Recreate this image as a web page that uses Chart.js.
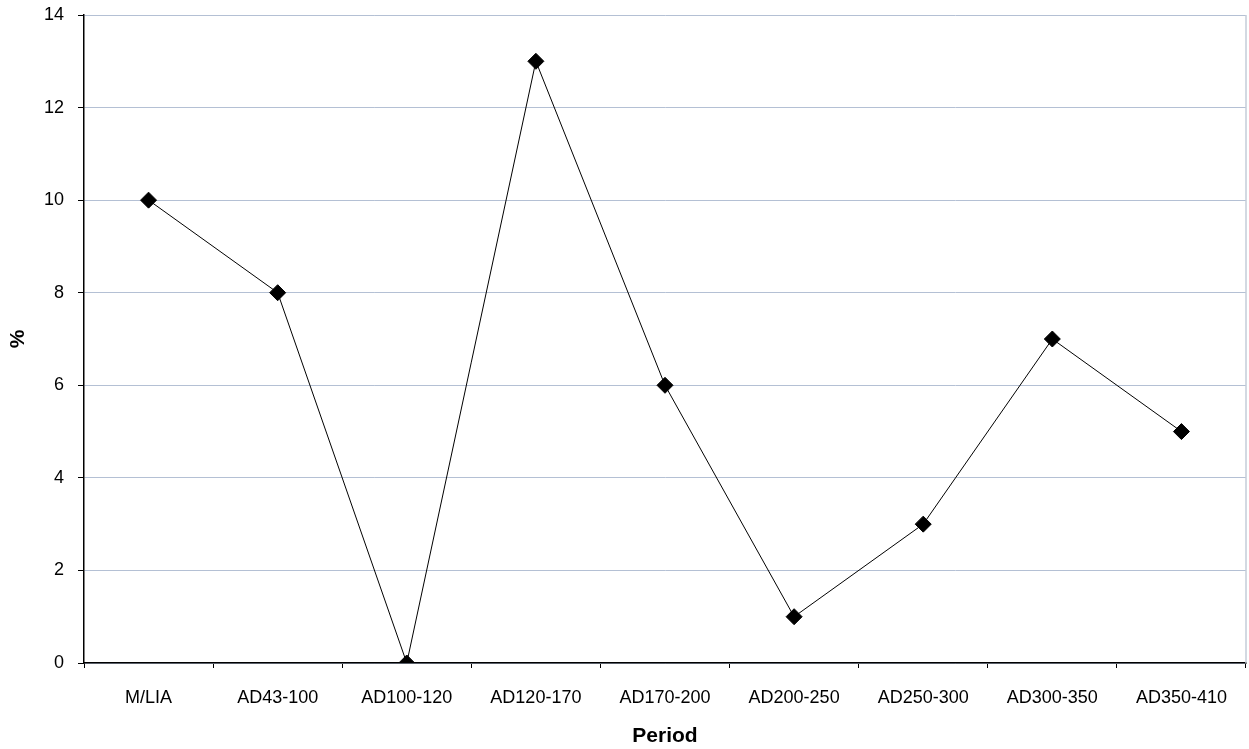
<!DOCTYPE html>
<html>
<head>
<meta charset="utf-8">
<script src="https://cdn.jsdelivr.net/npm/chart.js@4/dist/chart.umd.min.js"></script>
<style>
  html,body{margin:0;padding:0;background:#fff;overflow:hidden;}
  #wrap{width:1249px;height:749px;}
  canvas{display:block;}
</style>
</head>
<body>
<div id="wrap"><canvas id="c" width="1249" height="749"></canvas></div>
<script>
// periods on the x axis
const periods=['M/LIA','AD43-100','AD100-120','AD120-170','AD170-200','AD200-250','AD250-300','AD300-350','AD350-410'];
// percentage per period
const pct=[10,8,0,13,6,1,3,7,5];
const yMin=0, yMax=14, yStep=2;

const FONT='"Liberation Sans", Arial, Helvetica, sans-serif';
const GRID='#b4c0d4';

// light right-hand border of the plot area
const rightEdge={
  id:'rightEdge',
  afterDraw(ch){
    const a=ch.chartArea, c=ch.ctx;
    c.save(); c.strokeStyle='#c4ccd8'; c.lineWidth=1.5;
    c.beginPath(); c.moveTo(a.right,a.top); c.lineTo(a.right,a.bottom); c.stroke();
    c.restore();
  }
};

new Chart(document.getElementById('c'),{
  type:'line',
  data:{labels:periods,datasets:[{
    data:pct,
    borderColor:'#000',borderWidth:1,
    pointStyle:'rectRot',pointRadius:8,pointHoverRadius:8,
    pointBackgroundColor:'#000',pointBorderColor:'#000',
    tension:0,fill:false
  }]},
  options:{
    responsive:false,animation:false,
    layout:{autoPadding:false,padding:{top:15,right:3,bottom:0,left:0}},
    plugins:{legend:{display:false},tooltip:{enabled:false}},
    scales:{
      x:{
        offset:true,
        grid:{drawOnChartArea:false,tickLength:5,tickColor:'#000',offset:true},
        border:{color:'#000',width:1.5},
        ticks:{color:'#000',font:{family:FONT,size:18},padding:19,maxRotation:0},
        title:{display:true,text:'Period',color:'#000',font:{family:FONT,size:21,weight:'bold'},padding:{top:4,bottom:0}},
        afterFit(s){ s.height=86; s.paddingLeft=0; s.paddingRight=0; }
      },
      y:{
        min:yMin,max:yMax,
        grid:{color:GRID,lineWidth:1,tickLength:6,tickColor:'#000'},
        border:{color:'#000',width:1.5},
        ticks:{stepSize:yStep,color:'#000',font:{family:FONT,size:18},padding:14},
        title:{display:true,text:'%',color:'#000',font:{family:FONT,size:21,weight:'bold'},padding:{top:6,bottom:4}},
        afterFit(s){ s.width=84; s.paddingTop=0; s.paddingBottom=0; }
      }
    }
  },
  plugins:[rightEdge]
});
</script>
</body>
</html>
